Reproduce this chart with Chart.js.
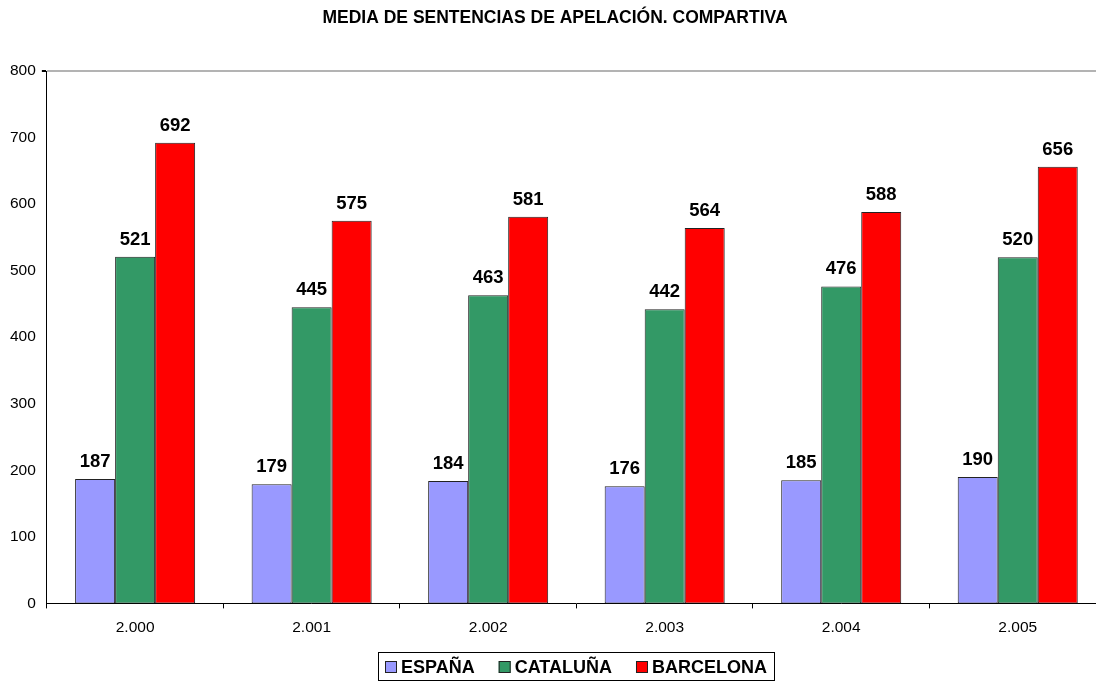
<!DOCTYPE html>
<html>
<head>
<meta charset="utf-8">
<script src="https://cdn.jsdelivr.net/npm/chart.js@4"></script>
<style>
  html, body { margin: 0; padding: 0; background: #fff; overflow: hidden; }
  #wrap { width: 1106px; height: 682px; }
</style>
</head>
<body>
<div id="wrap"><canvas id="chart"></canvas></div>
<script>
  const years = ['2.000', '2.001', '2.002', '2.003', '2.004', '2.005'];
  const espana = [187, 179, 184, 176, 185, 190];
  const cataluna = [521, 445, 463, 442, 476, 520];
  const barcelona = [692, 575, 581, 564, 588, 656];

  const font = '"Liberation Sans", Arial, sans-serif';

  // numbers above each bar
  const valueLabels = {
    id: 'valueLabels',
    afterDatasetsDraw(chart) {
      const ctx = chart.ctx;
      ctx.save();
      ctx.font = 'bold 18.5px ' + font;
      ctx.fillStyle = '#000';
      ctx.textAlign = 'center';
      ctx.textBaseline = 'bottom';
      chart.data.datasets.forEach((ds, i) => {
        chart.getDatasetMeta(i).data.forEach((bar, j) => {
          ctx.fillText(ds.data[j], bar.x, bar.y - 8);
        });
      });
      ctx.restore();
    }
  };

  // boxed legend under the axis, centred on the plot
  const boxLegend = {
    id: 'boxLegend',
    afterDraw(chart) {
      const ctx = chart.ctx;
      const area = chart.chartArea;
      const sets = chart.data.datasets;
      ctx.save();
      ctx.font = 'bold 18px ' + font;
      const widths = sets.map(ds => 12 + 4 + ctx.measureText(ds.label).width);
      const gap = 24;
      const inner = widths.reduce((a, b) => a + b, 0) + gap * (sets.length - 1);
      const left = Math.round((area.left + area.right) / 2 - inner / 2 - 7);
      const top = 652, h = 28;
      ctx.strokeStyle = '#000';
      ctx.lineWidth = 1;
      ctx.strokeRect(left + 0.5, top + 0.5, Math.round(inner + 14), h);
      let x = left + 7;
      const cy = top + h / 2 + 1;
      ctx.textBaseline = 'middle';
      ctx.fillStyle = '#000';
      sets.forEach((ds, i) => {
        ctx.fillStyle = ds.backgroundColor;
        ctx.fillRect(x, cy - 6, 12, 12);
        ctx.strokeStyle = '#222';
        ctx.strokeRect(x + 0.5, cy - 6 + 0.5, 11, 11);
        ctx.fillStyle = '#000';
        ctx.fillText(ds.label, x + 16, cy + 1);
        x += widths[i] + gap;
      });
      ctx.restore();
    }
  };

  new Chart(document.getElementById('chart'), {
    type: 'bar',
    data: {
      labels: years,
      datasets: [
        { label: 'ESPAÑA', data: espana, backgroundColor: '#9999FF' },
        { label: 'CATALUÑA', data: cataluna, backgroundColor: '#339966' },
        { label: 'BARCELONA', data: barcelona, backgroundColor: '#FF0000' }
      ]
    },
    options: {
      responsive: true,
      maintainAspectRatio: false,
      animation: false,
      devicePixelRatio: 1,
      layout: { padding: { left: 4, right: 0, top: 0, bottom: 35 } },
      datasets: {
        bar: {
          borderColor: '#222',
          borderWidth: 1,
          borderSkipped: false,
          categoryPercentage: 0.68,
          barPercentage: 1
        }
      },
      plugins: {
        title: {
          display: true,
          text: 'MEDIA DE SENTENCIAS DE APELACIÓN. COMPARTIVA',
          color: '#000',
          font: { family: font, size: 17.5, weight: 'bold' },
          padding: { top: 8, bottom: 42 }
        },
        legend: { display: false },
        tooltip: { enabled: false }
      },
      scales: {
        x: {
          grid: {
            offset: true,
            drawOnChartArea: false,
            tickColor: '#000',
            tickLength: 5
          },
          border: { color: '#000', width: 1 },
          ticks: { color: '#000', font: { family: font, size: 15.5 }, padding: 10 }
        },
        y: {
          min: 0,
          max: 800,
          grid: {
            color: ctx => ctx.tick && ctx.tick.value === 800 ? '#b3b3b3' : 'rgba(0,0,0,0)',
            lineWidth: ctx => ctx.tick && ctx.tick.value === 800 ? 2 : 0,
            tickColor: '#000',
            tickLength: 5
          },
          border: { color: '#000', width: 1 },
          ticks: { stepSize: 100, color: '#000', font: { family: font, size: 15.5 }, padding: 6 }
        }
      }
    },
    plugins: [valueLabels, boxLegend]
  });
</script>
</body>
</html>
